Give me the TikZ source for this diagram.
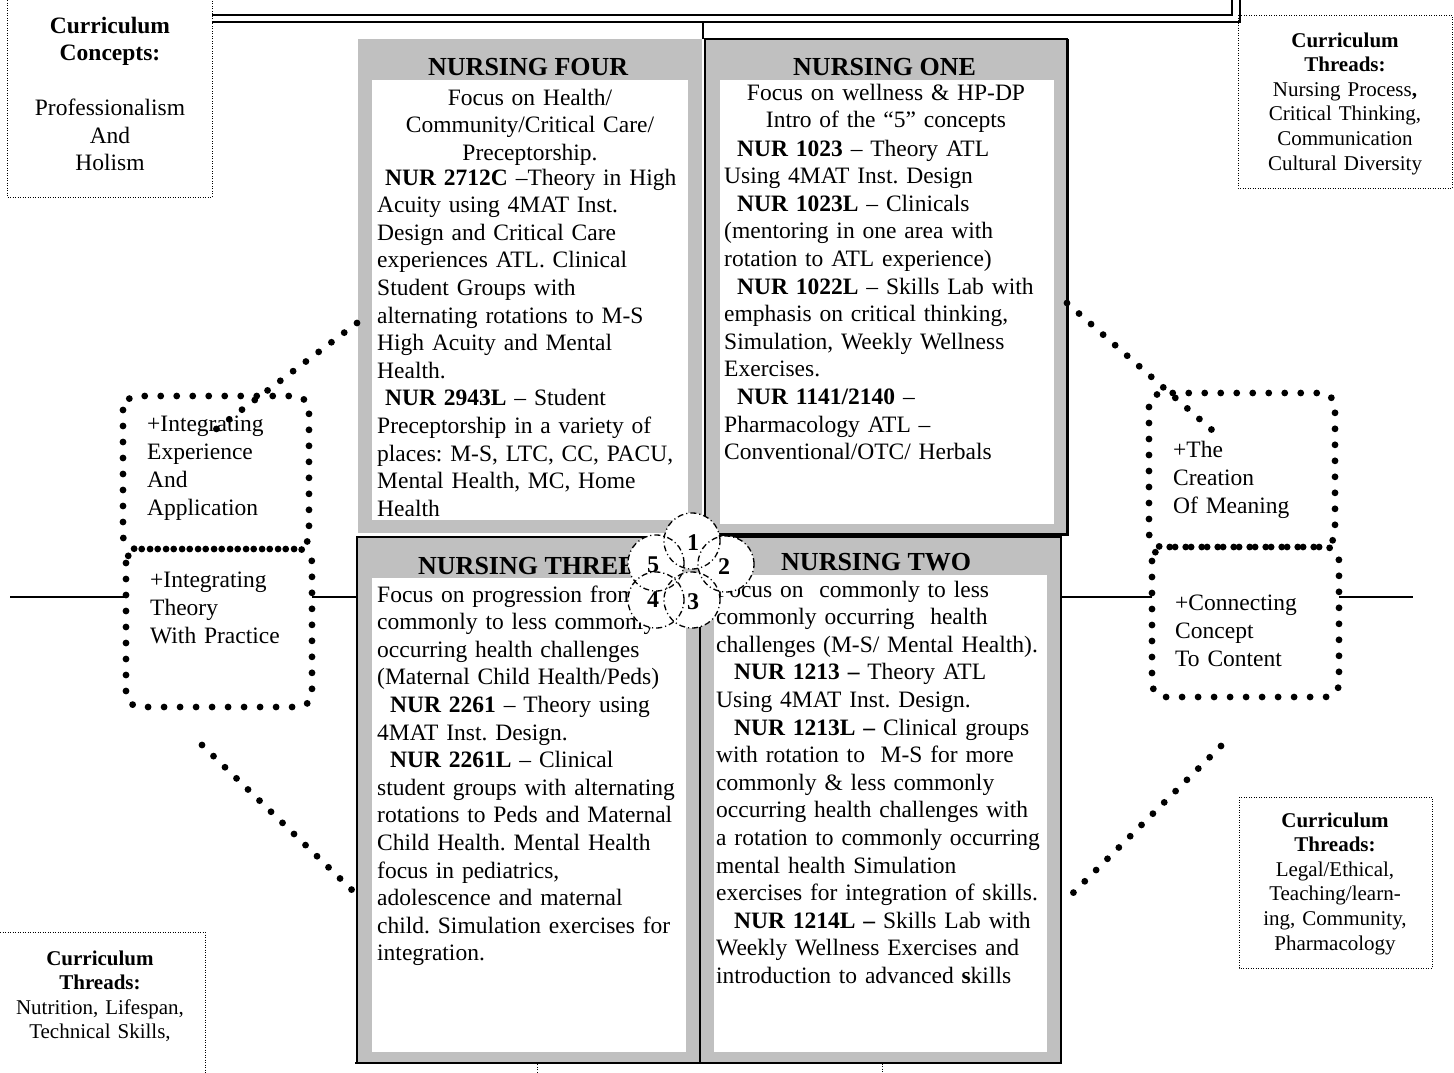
\documentclass[tikz,border=0pt]{standalone}
\usepackage{fontspec}
\setmainfont{Liberation Serif}
\frenchspacing
\definecolor{boxgray}{RGB}{192,192,192}
\tikzset{
  bigdot/.style={line width=6.8pt, line cap=round, dash pattern=on 0pt off 16pt},
  dotbox/.style={bigdot, rounded corners=14pt},
  thindot/.style={line width=1pt, dash pattern=on 1pt off 1.5pt},
  circ/.style={line width=1.3pt, dash pattern=on 6pt off 3pt on 1.2pt off 3pt},
  body/.style={font=\fontsize{23.5}{27.6}\selectfont, inner sep=0pt, align=left, anchor=base west, text width=420pt},
  bodyc/.style={font=\fontsize{23.5}{27.6}\selectfont, inner sep=0pt, align=center, anchor=base, text width=330pt},
  title/.style={font=\fontsize{26}{30}\selectfont\bfseries, inner sep=0pt, anchor=base west},
  sidebig/.style={font=\fontsize{23.5}{27.5}\selectfont, inner sep=0pt, align=center, anchor=base, text width=200pt},
  sidesmall/.style={font=\fontsize{21}{24.6}\selectfont, inner sep=0pt, align=center, anchor=base, text width=210pt},
  dottext/.style={font=\fontsize{23.5}{28}\selectfont, inner sep=0pt, align=left, anchor=base west, text width=190pt},
  numlabel/.style={font=\fontsize{24}{26}\selectfont\bfseries, inner sep=0pt},
  plain/.style={line width=1.3pt},
}
\begin{document}
\begin{tikzpicture}[x=1pt,y=-1pt]
\useasboundingbox (0,0) rectangle (1454,1072);

% ---------- top double border fragment
\draw[line width=2.5pt] (212,15) -- (1232,15) -- (1232,0);
\draw[line width=2pt] (212,22) -- (1240,22) -- (1240,0);
\coordinate (topjoin) at (703,22);
\coordinate (onetop) at (703,39);
\draw[plain] (topjoin) -- (onetop);

% ---------- curriculum boxes (thin dotted)
\draw[thindot] (7,-5) -- (7,197) -- (212,197) -- (212,-5);
\node[sidebig] (concepts) at (110,33) {\textbf{Curriculum}\\\textbf{Concepts:}\\[27.5pt]Professionalism\\And\\Holism};

\draw[thindot] (1238,15) rectangle (1452,188);
\node[sidesmall] (threadsA) at (1345,47) {\textbf{Curriculum}\\\textbf{Threads:}\\Nursing Process\textbf{,}\\Critical Thinking,\\Communication\\Cultural Diversity};

\draw[thindot] (1239,797) rectangle (1432,968);
\node[sidesmall] (threadsB) at (1335,827) {\textbf{Curriculum}\\\textbf{Threads:}\\Legal/Ethical,\\Teaching/learn-\\ing, Community,\\Pharmacology};

\draw[thindot] (-5,932) -- (205,932) -- (205,1080);
\node[sidesmall] (threadsC) at (100,965) {\textbf{Curriculum}\\\textbf{Threads:}\\Nutrition, Lifespan,\\Technical Skills,};

\draw[thindot] (537,1080) -- (537,1063) -- (882,1063) -- (882,1080);

% ---------- NURSING FOUR
\fill[boxgray] (358,39) rectangle (702,533);
\fill[white] (372,80) rectangle (688,520);
\node[title] (tfour) at (428,75) {NURSING FOUR};
\node[bodyc] (fourA) at (530,105) {Focus on Health/\\Community/Critical Care/\\Preceptorship.};
\node[body] (fourB) at (377,185) {\hspace*{8pt}\textbf{NUR 2712C} –Theory in High\\
Acuity using 4MAT Inst.\\
Design and Critical Care\\
experiences ATL. Clinical\\
Student Groups with\\
alternating rotations to M-S\\
High Acuity and Mental\\
Health.\\
\hspace*{8pt}\textbf{NUR 2943L} – Student\\
Preceptorship in a variety of\\
places: M-S, LTC, CC, PACU,\\
Mental Health, MC, Home\\
Health};

% ---------- NURSING ONE
\fill[boxgray] (705,39) rectangle (1067,534);
\fill[white] (720,80) rectangle (1054,524);
\draw[line width=1.5pt] (705,39) rectangle (1067,534);
\draw[line width=2.5pt] (1068,39) -- (1068,535) -- (705,535);
\node[title] (tone) at (793,75) {NURSING ONE};
\node[bodyc] (oneA) at (886,100) {Focus on wellness \& HP-DP\\Intro of the “5” concepts};
\node[body] (oneB) at (724,156) {\hspace*{13pt}\textbf{NUR 1023} – Theory ATL\\
Using 4MAT Inst. Design\\
\hspace*{13pt}\textbf{NUR 1023L} – Clinicals\\
(mentoring in one area with\\
rotation to ATL experience)\\
\hspace*{13pt}\textbf{NUR 1022L} – Skills Lab with\\
emphasis on critical thinking,\\
Simulation, Weekly Wellness\\
Exercises.\\
\hspace*{13pt}\textbf{NUR 1141/2140} –\\
Pharmacology ATL –\\
Conventional/OTC/ Herbals};

% ---------- NURSING THREE
\fill[boxgray] (357,537) rectangle (700,1063);
\fill[white] (372,578) rectangle (686,1052);
\node[title] (tthree) at (418,574) {NURSING THREE};
\node[body] (threeB) at (377,602) {Focus on progression from\\
commonly to less commonly\\
occurring health challenges\\
(Maternal Child Health/Peds)\\
\hspace*{13pt}\textbf{NUR 2261} – Theory using\\
4MAT Inst. Design.\\
\hspace*{13pt}\textbf{NUR 2261L} – Clinical\\
student groups with alternating\\
rotations to Peds and Maternal\\
Child Health. Mental Health\\
focus in pediatrics,\\
adolescence and maternal\\
child. Simulation exercises for\\
integration.};

% ---------- NURSING TWO
\fill[boxgray] (700,537) rectangle (1061,1063);
\fill[white] (714,575) rectangle (1047,1052);
\node[title] (ttwo) at (781,570) {NURSING TWO};
\node[body] (twoB) at (716,597) {Focus on\ \ commonly to less\\
commonly occurring\ \ health\\
challenges (M-S/ Mental Health).\\
\hspace*{18pt}\textbf{NUR 1213 –} Theory ATL\\
Using 4MAT Inst. Design.\\
\hspace*{18pt}\textbf{NUR 1213L –} Clinical groups\\
with rotation to\ \ M-S for more\\
commonly \& less commonly\\
occurring health challenges with\\
a rotation to commonly occurring\\
mental health Simulation\\
exercises for integration of skills.\\
\hspace*{18pt}\textbf{NUR 1214L –} Skills Lab with\\
Weekly Wellness Exercises and\\
introduction to advanced \textbf{s}kills};

% borders of lower boxes
\draw[line width=1.5pt] (357,1063) -- (357,537) -- (1061,537) -- (1061,1063);
\draw[line width=2.5pt] (355,1063) -- (1062,1063);
\draw[line width=1.5pt] (700,537) -- (700,1063);

% ---------- five circles
\coordinate (c1) at (692,541);
\coordinate (c2) at (726,564);
\coordinate (c3) at (692,600);
\coordinate (c4) at (656,600);
\coordinate (c5) at (656,563);
\foreach \c in {c1,c2,c3,c4,c5} \fill[white] (\c) circle[radius=28pt];
\foreach \c in {c1,c2,c3,c4,c5} \draw[circ] (\c) circle[radius=28pt];
\node[numlabel] (n1) at (693,543) {1};
\node[numlabel] (n2) at (724,567) {2};
\node[numlabel] (n3) at (693,602) {3};
\node[numlabel] (n4) at (653,600) {4};
\node[numlabel] (n5) at (653,565) {5};

% ---------- dotted boxes left
\draw[dotbox] (123,396) rectangle (309,549);
\draw[dotbox] (126,549) rectangle (312,707);
\node[dottext] (intexp) at (147,431) {+Integrating\\Experience\\And\\Application};
\node[dottext] (intthe) at (150,587) {+Integrating\\Theory\\With Practice};

% ---------- dotted boxes right
\draw[dotbox] (1149,393) rectangle (1335,547);
\draw[dotbox] (1152,547) rectangle (1339,697);
\node[dottext] (creation) at (1173,457) {+The\\Creation\\Of Meaning};
\node[dottext] (connect) at (1175,610) {+Connecting\\Concept\\To Content};

% ---------- horizontal connectors
\coordinate (hl0) at (10,597);
\coordinate (hl1) at (126,597);
\coordinate (hl2) at (312,597);
\coordinate (hl3) at (357,597);
\coordinate (hr0) at (1061,597);
\coordinate (hr1) at (1152,597);
\coordinate (hr2) at (1339,597);
\coordinate (hr3) at (1413,597);
\draw[plain] (hl0) -- (hl1);
\draw[plain] (hl2) -- (hl3);
\draw[plain] (hr0) -- (hr1);
\draw[plain] (hr2) -- (hr3);

% ---------- dotted diagonals
\coordinate (d1a) at (357,323);
\coordinate (d1b) at (215,430);
\coordinate (d2a) at (1067,303);
\coordinate (d2b) at (1212,430);
\coordinate (d3a) at (202,745);
\coordinate (d3b) at (352,890);
\coordinate (d4a) at (1221,746);
\coordinate (d4b) at (1073,893);
\draw[bigdot] (d1a) -- (d1b);
\draw[bigdot] (d2a) -- (d2b);
\draw[bigdot] (d3a) -- (d3b);
\draw[bigdot] (d4a) -- (d4b);
\end{tikzpicture}
\end{document}
